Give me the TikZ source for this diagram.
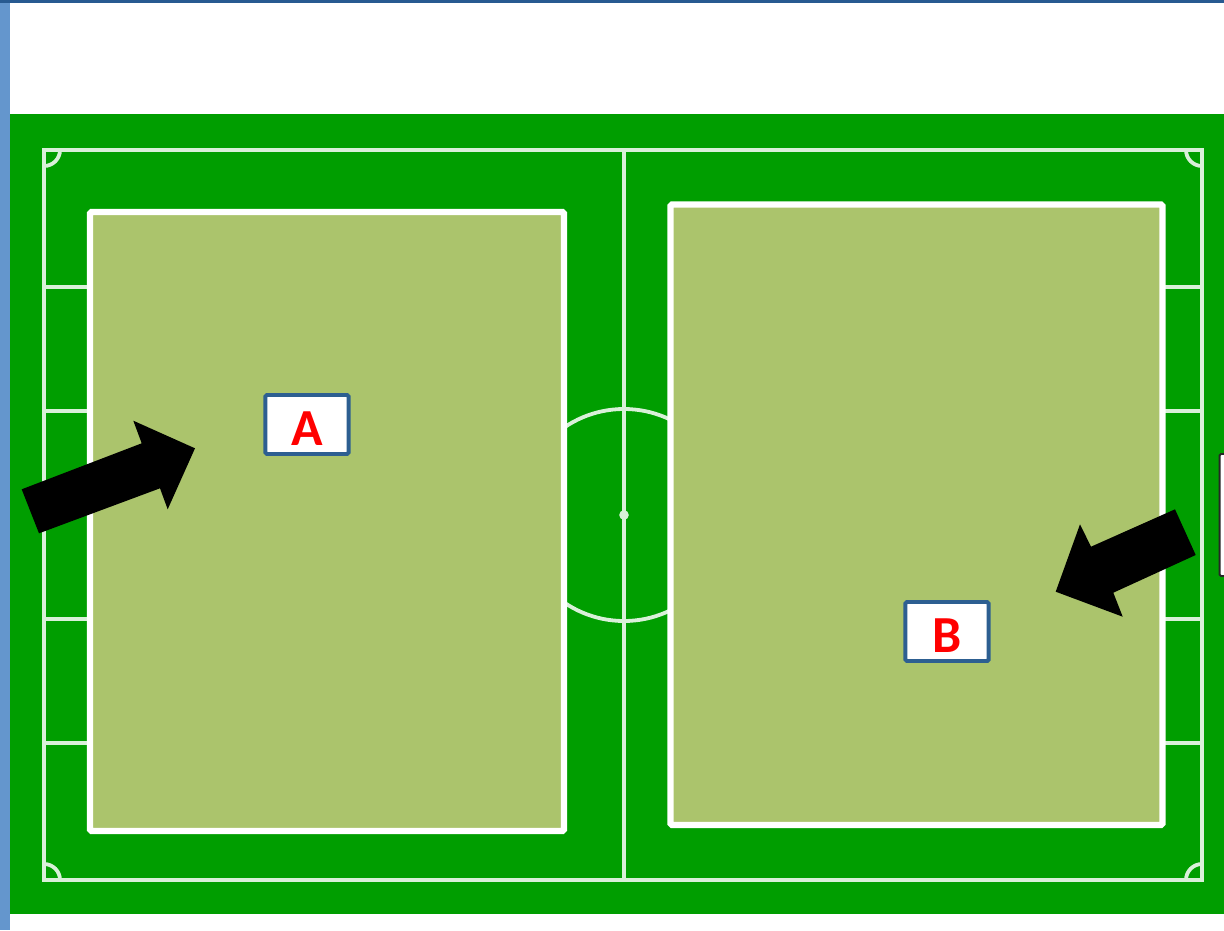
\documentclass[tikz,border=0pt]{standalone}
\usepackage{fontspec}
\setmainfont{Carlito}
\usepackage{xcolor}
\usepackage{tikz}
\usetikzlibrary{positioning}
\definecolor{pitch}{RGB}{0,158,0}
\definecolor{zone}{RGB}{171,196,108}
\definecolor{tagblue}{RGB}{45,95,145}
\definecolor{topblue}{RGB}{40,90,145}
\definecolor{sideblue}{RGB}{100,150,205}
\tikzset{
	pitchline/.style={draw=white!85!pitch, line width=2.7pt},
	zonebox/.style={fill=zone, draw=white, line width=4.3pt, rounded corners=1pt},
	tag/.style={draw=tagblue, fill=white, line width=2.8pt, rounded corners=1pt,
		minimum width=20.8mm, minimum height=14.75mm, inner sep=0pt,
		text height=10.6mm, text=red, font=\fontsize{37}{40}\selectfont\bfseries},
	blockarrow/.style={fill=black},
}

\begin{document}
\begin{tikzpicture}[x=0.25mm, y=-0.25mm]
	% x, y in pixels of the sheet (y downwards)
	\useasboundingbox (0,0) rectangle (1224,930);
	\fill[white] (0,0) rectangle (1224,930);
	\fill[sideblue] (0,0) rectangle (10,930);
	\fill[topblue] (0,0) rectangle (1224,3);
	
	% Pitch
	\fill[pitch] (10,114) rectangle (1224,914);
	\draw[pitchline] (44,150) rectangle (1202,880);
	\draw[pitchline] (624,150) -- (624,880);
	\draw[pitchline] (624,515) circle (26.5mm);
	\fill[white!85!pitch] (624,515) circle (1.2mm);
	\foreach \y in {287,411,619,743} {
		\draw[pitchline] (44,\y) -- (120,\y);
		\draw[pitchline] (1140,\y) -- (1202,\y);
	}
	
	% Corner arcs
	\begin{scope}
		\clip (44,150) rectangle (1202,880);
		\foreach \cx/\cy in {44/150, 1202/150, 44/880, 1202/880}
			\draw[pitchline] (\cx,\cy) circle (4mm);
	\end{scope}
	
	% Zones
	\draw[zonebox] (90,212) rectangle (564,831);
	\draw[zonebox] (670.5,204.5) rectangle (1162.5,825);
	
	% Labels
	\node[tag] (tagA) at (307,424.5) {A};
	\node[tag] (tagB) at (947,631.5) {B};
	
	% Box cut at the right edge
	\draw[draw=black!85, fill=white, line width=1.4pt, rounded corners=1pt]
		(1219.5,454) rectangle (1240,576);
	
	% Arrows
	\fill[blockarrow] (21.7,489.3) -- (141.7,443.3) -- (133.3,420.7) -- (195,448.3)
		-- (167.7,509.3) -- (160,488.3) -- (39,533.3) -- cycle;
	\fill[blockarrow] (1175,509.3) -- (1195.7,555) -- (1113.3,592.7) -- (1122.7,616.7)
		-- (1055.7,591.7) -- (1080,524.3) -- (1091,546.7) -- cycle;
\end{tikzpicture}
\end{document}
